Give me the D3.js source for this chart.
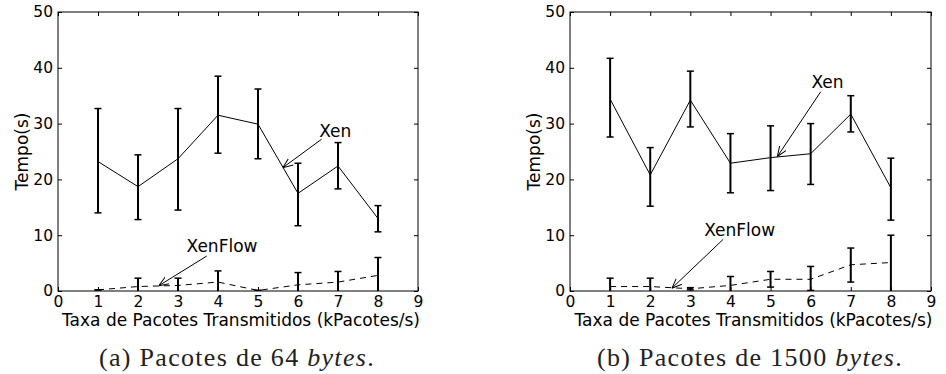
<!doctype html>
<html>
  <head>
    <script src="https://cdn.jsdelivr.net/npm/d3@7"></script>
    <style>
      body { margin: 0; background: #fff; }
      .tick text { font-family: "DejaVu Sans", sans-serif; font-size: 15.5px; fill: #000; }
      .lbl { font-family: "DejaVu Sans", sans-serif; font-size: 17px; fill: #000; }
      .cap { font-family: "Liberation Serif", "DejaVu Serif", serif; font-size: 26px; fill: #222; letter-spacing: 1.3px; }
    </style>
  </head>
  <body>
    <script>
      // x values (kPacotes/s) and axis ticks
      var xVals = [1, 2, 3, 4, 5, 6, 7, 8];
      var xTicks = [0, 1, 2, 3, 4, 5, 6, 7, 8, 9];
      var yTicks = [0, 10, 20, 30, 40, 50];

      // (a) 64 bytes
      var xenA    = [23.2, 18.7, 23.7, 31.5, 29.9, 17.5, 22.4, 13.0];
      var xenALo  = [14.0, 12.8, 14.5, 24.7, 23.7, 11.7, 18.3, 10.6];
      var xenAHi  = [32.7, 24.4, 32.7, 38.5, 36.2, 22.9, 26.6, 15.3];
      var flowA   = [0.2, 0.8, 1.0, 1.6, 0.1, 1.1, 1.6, 2.8];
      var flowALo = [0.2, -0.7, -0.3, -0.4, 0.1, -1.1, -0.3, -0.4];
      var flowAHi = [0.2, 2.3, 2.3, 3.6, 0.1, 3.3, 3.5, 6.0];

      // (b) 1500 bytes
      var xenB    = [34.4, 20.8, 34.2, 22.9, 23.9, 24.6, 31.7, 18.5];
      var xenBLo  = [27.6, 15.2, 29.4, 17.6, 18.0, 19.1, 28.5, 12.7];
      var xenBHi  = [41.7, 25.7, 39.4, 28.2, 29.6, 30.0, 35.0, 23.8];
      var flowB   = [0.8, 0.8, 0.4, 1.0, 2.1, 2.1, 4.7, 5.1];
      var flowBLo = [-0.7, -0.7, 0.2, -0.6, 0.7, 0.1, 1.6, -0.2];
      var flowBHi = [2.3, 2.3, 0.6, 2.6, 3.5, 4.4, 7.7, 10.0];

      // annotations: [text, text x, text y, arrow start x, y, arrow tip x, y] in data units
      var annA = [["Xen", 6.93, 28.7, 6.59, 27.2, 5.62, 22.1],
                  ["XenFlow", 4.1, 8.06, 3.72, 6.27, 2.52, 0.95]];
      var annB = [["Xen", 6.42, 37.5, 6.25, 35.7, 5.17, 24.1],
                  ["XenFlow", 4.23, 10.9, 3.82, 9.27, 2.54, 0.5]];

      var W = 946, H = 374;
      var svg = d3.select("body").append("svg").attr("width", W).attr("height", H);

      var defs = svg.append("defs");
      defs.append("marker").attr("id", "arr")
          .attr("viewBox", "0 0 10 10").attr("refX", 10).attr("refY", 5)
          .attr("markerWidth", 10).attr("markerHeight", 10)
          .attr("markerUnits", "userSpaceOnUse").attr("orient", "auto")
        .append("path").attr("d", "M0,1 L10,5 L0,9")
          .attr("fill", "none").attr("stroke", "#000").attr("stroke-width", 1);

      function panel(id, x0, x1, xen, xenLo, xenHi, flow, flowLo, flowHi, ann, caption, capX) {
        var y0 = 12, y1 = 291;
        var x = d3.scaleLinear().domain([0, 9]).range([x0, x1]);
        var y = d3.scaleLinear().domain([0, 50]).range([y1, y0]);
        var g = svg.append("g");

        defs.append("clipPath").attr("id", "clip" + id)
          .append("rect").attr("x", x0).attr("y", y0).attr("width", x1 - x0).attr("height", y1 - y0);

        // axes with inward ticks on all four sides
        g.append("g").attr("transform", "translate(0," + y1 + ")")
          .call(d3.axisBottom(x).tickValues(xTicks).tickSizeInner(-4).tickSizeOuter(0).tickPadding(5));
        g.append("g").attr("transform", "translate(0," + y0 + ")")
          .call(d3.axisTop(x).tickValues(xTicks).tickSizeInner(-4).tickSizeOuter(0).tickFormat(""));
        g.append("g").attr("transform", "translate(" + x0 + ",0)")
          .call(d3.axisLeft(y).tickValues(yTicks).tickSizeInner(-4).tickSizeOuter(0).tickPadding(5));
        g.append("g").attr("transform", "translate(" + x1 + ",0)")
          .call(d3.axisRight(y).tickValues(yTicks).tickSizeInner(-4).tickSizeOuter(0).tickFormat(""));
        g.selectAll(".domain").remove();
        g.selectAll(".tick line").attr("stroke", "#000");

        var plot = g.append("g").attr("clip-path", "url(#clip" + id + ")");
        var line = d3.line().x(function(d) { return x(d[0]); }).y(function(d) { return y(d[1]); });

        function series(vals, lo, hi, dash) {
          var pts = xVals.map(function(v, i) { return [v, vals[i]]; });
          plot.append("path").datum(pts).attr("d", line)
            .attr("fill", "none").attr("stroke", "#000").attr("stroke-width", 1)
            .attr("stroke-dasharray", dash);
          var eb = plot.selectAll(null).data(xVals).enter().append("g")
            .attr("stroke", "#000").attr("stroke-width", 2);
          eb.append("line")
            .attr("x1", function(d) { return x(d); }).attr("x2", function(d) { return x(d); })
            .attr("y1", function(d, i) { return y(lo[i]); }).attr("y2", function(d, i) { return y(hi[i]); });
          eb.append("line")
            .attr("x1", function(d) { return x(d) - 3.5; }).attr("x2", function(d) { return x(d) + 3.5; })
            .attr("y1", function(d, i) { return y(hi[i]); }).attr("y2", function(d, i) { return y(hi[i]); })
            .attr("stroke-width", 1.5);
          eb.append("line")
            .attr("x1", function(d) { return x(d) - 3.5; }).attr("x2", function(d) { return x(d) + 3.5; })
            .attr("y1", function(d, i) { return y(lo[i]); }).attr("y2", function(d, i) { return y(lo[i]); })
            .attr("stroke-width", 1.5);
        }
        series(xen, xenLo, xenHi, null);
        series(flow, flowLo, flowHi, "6,5");

        // frame
        g.append("rect").attr("x", x0).attr("y", y0).attr("width", x1 - x0).attr("height", y1 - y0)
          .attr("fill", "none").attr("stroke", "#000").attr("stroke-width", 1);

        // annotations
        ann.forEach(function(a) {
          g.append("text").attr("class", "lbl").attr("x", x(a[1])).attr("y", y(a[2]))
            .attr("text-anchor", "middle").attr("dy", "0.35em").text(a[0]);
          g.append("line").attr("x1", x(a[3])).attr("y1", y(a[4]))
            .attr("x2", x(a[5])).attr("y2", y(a[6]))
            .attr("stroke", "#000").attr("stroke-width", 1).attr("marker-end", "url(#arr)");
        });

        // axis labels
        g.append("text").attr("class", "lbl").attr("x", (x0 + x1) / 2 + 3).attr("y", 326)
          .attr("text-anchor", "middle").text("Taxa de Pacotes Transmitidos (kPacotes/s)");
        g.append("text").attr("class", "lbl")
          .attr("transform", "translate(" + (x0 - 30) + "," + ((y0 + y1) / 2) + ") rotate(-90)")
          .attr("text-anchor", "middle").text("Tempo(s)");

        // caption
        var c = g.append("text").attr("class", "cap").attr("x", capX).attr("y", 366)
          .attr("text-anchor", "middle");
        c.append("tspan").text(caption);
        c.append("tspan").attr("font-style", "italic").text("bytes");
        c.append("tspan").text(".");
      }

      panel("a", 58, 418, xenA, xenALo, xenAHi, flowA, flowALo, flowAHi, annA, "(a) Pacotes de 64 ", 237);
      panel("b", 570, 931, xenB, xenBLo, xenBHi, flowB, flowBLo, flowBHi, annB, "(b) Pacotes de 1500 ", 750);
    </script>
  </body>
</html>
